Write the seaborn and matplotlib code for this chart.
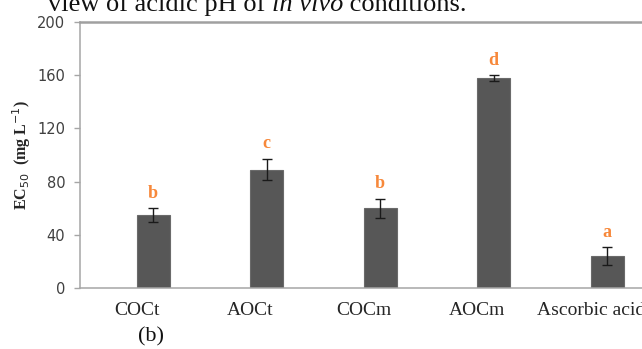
import numpy as np
import pandas as pd
import seaborn as sns
import matplotlib.pyplot as plt
from matplotlib.ticker import FixedLocator

# valeurs (EC50, mg/L)
categories = ['COCt', 'AOCt', 'COCm', 'AOCm', 'Ascorbic acid']
ec50 = [55, 89, 60, 158, 24]
ec50_err = [5, 8, 7, 2, 6.5]
letters = ['b', 'c', 'b', 'd', 'a']
y_ticks = [0, 40, 80, 120, 160, 200]

# deux series comme dans Excel : une vide, une avec les valeurs
table = pd.DataFrame({
    'cat': categories * 2,
    'serie': ['vide'] * len(categories) + ['EC50'] * len(categories),
    'val': [np.nan] * len(categories) + ec50,
})

sns.set_style('white')
plt.rcParams['font.family'] = ['DejaVu Sans']

fig = plt.figure(figsize=(6.42, 3.49), dpi=100)
ax = fig.add_axes([80 / 642, 61 / 349, 567.5 / 642, 266 / 349])

sns.barplot(data=table, x='cat', y='val', hue='serie', hue_order=['vide', 'EC50'],
            order=categories, palette=['#575757', '#575757'], width=0.58,
            edgecolor='#6a6a6a', linewidth=0.8, legend=False, errorbar=None, ax=ax)

# barres d'erreur et lettres au centre des barres dessinees
bars = [p for p in ax.patches if np.isfinite(p.get_height()) and p.get_height() > 0]
bars = sorted(bars, key=lambda p: p.get_x())
xs = [p.get_x() + p.get_width() / 2 for p in bars]
ax.errorbar(xs, ec50, yerr=ec50_err, fmt='none', ecolor='#1a1a1a',
            elinewidth=1.0, capsize=3.5, capthick=1.0)
for x, v, e, l in zip(xs, ec50, ec50_err, letters):
    ax.text(x, v + e + 5, l, ha='center', va='bottom', color='#F7883A',
            fontsize=13, fontweight='bold', family='Liberation Serif')

ax.set_xlim(-0.5, 4.5)
ax.set_ylim(0, 200)
ax.set_yticks(y_ticks)
ax.set_yticklabels([str(t) for t in y_ticks], fontsize=10.5, color='#404040',
                   family='DejaVu Sans')
ax.set_xticks(range(len(categories)))
ax.set_xticklabels(categories, fontsize=14, color='#262626', family='Liberation Serif')
ax.xaxis.set_minor_locator(FixedLocator([0.5, 1.5, 2.5, 3.5]))
ax.tick_params(axis='x', which='major', length=0, pad=10)
ax.tick_params(axis='x', which='minor', length=4.5, color='#a6a6a6', width=1)
ax.tick_params(axis='y', length=4.5, color='#a6a6a6', width=1, pad=6, left=True)
ax.set_xlabel('')
ax.set_ylabel(r'EC$_{50}$  (mg L$^{-1}$)', fontsize=11.5, fontweight='bold',
              family='Liberation Serif')
ax.yaxis.set_label_coords(-0.083, 0.5)

for s in ['left', 'bottom']:
    ax.spines[s].set_color('#a6a6a6')
    ax.spines[s].set_linewidth(1.1)
ax.spines['right'].set_visible(False)
ax.spines['top'].set_color('#a0a0a0')
ax.spines['top'].set_linewidth(1.8)

# texte de la page autour de la figure (coupe en haut comme sur l'original)
fs_page = 19
base_y = 1 - 11 / 349
fig.text(48 / 642, base_y, 'view of acidic pH of ', fontsize=fs_page,
         family='Liberation Serif', va='baseline', color='#111111')
fig.canvas.draw()
bb = fig.texts[-1].get_window_extent()
fig.text(bb.x1 / 642, base_y, 'in vivo', fontsize=fs_page, style='italic',
         family='Liberation Serif', va='baseline', color='#111111')
fig.canvas.draw()
bb2 = fig.texts[-1].get_window_extent()
fig.text(bb2.x1 / 642, base_y, ' conditions.', fontsize=fs_page,
         family='Liberation Serif', va='baseline', color='#111111')
fig.text(151 / 642, 1 - 337 / 349, '(b)', fontsize=16, family='Liberation Serif',
         ha='center', va='center', color='#111111')

fig.savefig('out.png', dpi=100)
